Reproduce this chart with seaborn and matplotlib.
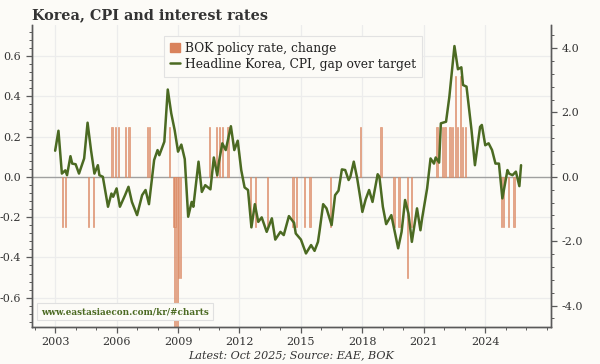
import matplotlib
matplotlib.use("Agg")
import matplotlib.pyplot as plt
from matplotlib.ticker import FormatStrFormatter, MultipleLocator, FixedLocator
from matplotlib.patches import Patch
from matplotlib.lines import Line2D
import seaborn as sns
import pandas as pd
import numpy as np

# ---------------- data ----------------
cpi_dates = ["2003-01", "2003-03", "2003-05", "2003-07", "2003-08", "2003-10", "2003-11",
             "2004-01", "2004-03", "2004-06", "2004-08", "2004-10", "2004-11", "2004-12",
             "2005-02", "2005-03", "2005-05", "2005-08", "2005-10", "2005-11",
             "2006-01", "2006-03", "2006-06", "2006-08", "2006-10",
             "2007-01", "2007-04", "2007-06", "2007-08", "2007-11",
             "2008-01", "2008-02", "2008-05", "2008-07", "2008-09", "2008-11",
             "2009-01", "2009-03", "2009-05", "2009-07", "2009-09", "2009-10",
             "2010-01", "2010-03", "2010-05", "2010-08", "2010-10", "2010-12",
             "2011-01", "2011-03", "2011-05", "2011-08", "2011-10", "2011-12",
             "2012-02", "2012-04", "2012-06", "2012-08", "2012-10", "2012-12",
             "2013-02", "2013-05", "2013-08", "2013-10",
             "2014-01", "2014-03", "2014-06", "2014-09", "2014-10",
             "2015-01", "2015-04", "2015-07", "2015-09", "2015-11", "2015-12",
             "2016-02", "2016-04", "2016-07", "2016-09", "2016-11",
             "2017-01", "2017-03", "2017-05", "2017-06", "2017-08", "2017-10", "2017-12",
             "2018-01", "2018-03", "2018-05", "2018-07", "2018-10", "2018-11",
             "2019-01", "2019-03", "2019-06", "2019-10", "2019-12",
             "2020-02", "2020-04", "2020-06", "2020-09", "2020-11", "2020-12",
             "2021-03", "2021-05", "2021-07", "2021-08", "2021-10", "2021-11",
             "2022-02", "2022-04", "2022-07", "2022-09", "2022-11", "2022-12",
             "2023-02", "2023-05", "2023-07", "2023-10", "2023-11",
             "2024-01", "2024-03", "2024-05", "2024-07", "2024-09", "2024-11",
             "2025-02", "2025-03", "2025-05", "2025-07", "2025-09", "2025-10"]
cpi_gap = [0.81, 1.43, 0.10, 0.20, 0.05, 0.64, 0.41,
           0.39, 0.10, 0.57, 1.68, 0.83, 0.47, 0.10,
           0.36, 0.05, 0.00, -0.93, -0.52, -0.62,
           -0.36, -0.93, -0.57, -0.31, -0.78,
           -1.19, -0.57, -0.41, -0.85, 0.52,
           0.83, 0.67, 1.09, 2.71, 1.97, 1.45,
           0.78, 1.00, 0.55, -1.24, -0.78, -0.93,
           0.47, -0.47, -0.26, -0.39, 0.60, 0.05,
           0.47, 1.04, 0.83, 1.57, 0.83, 1.12,
           0.21, -0.33, -0.41, -1.57, -0.85, -1.40,
           -1.26, -1.71, -1.29, -1.95,
           -1.71, -1.81, -1.22, -1.43, -1.76,
           -1.95, -2.38, -2.12, -2.30, -2.02, -1.66,
           -0.85, -0.98, -1.50, -0.57, -0.43,
           0.23, 0.21, -0.10, 0.00, 0.47, -0.05, -0.72,
           -1.09, -0.70, -0.41, -0.78, 0.08, 0.00,
           -0.93, -1.47, -1.19, -2.22, -1.71,
           -0.72, -1.14, -2.02, -0.98, -1.66, -1.29,
           -0.36, 0.57, 0.41, 0.60, 0.44, 1.66,
           1.71, 2.48, 4.06, 3.34, 3.40, 2.85,
           2.80, 1.45, 0.36, 1.55, 1.61,
           0.98, 1.04, 0.83, 0.41, 0.41, -0.67,
           0.21, 0.10, 0.05, 0.16, -0.29, 0.36]

bok_dates = ["2003-05-13", "2003-07-10", "2004-08-12", "2004-11-11",
             "2005-10-11", "2005-12-08", "2006-02-09", "2006-06-08", "2006-08-10",
             "2007-07-12", "2007-08-09", "2008-08-07",
             "2008-10-09", "2008-10-27", "2008-11-07", "2008-12-11", "2009-01-09", "2009-02-12",
             "2010-07-09", "2010-11-16", "2011-01-13", "2011-03-10", "2011-06-10",
             "2012-07-12", "2012-10-11", "2013-05-09", "2014-08-14", "2014-10-15",
             "2015-03-12", "2015-06-11", "2016-06-09",
             "2017-11-30", "2018-11-30",
             "2019-07-18", "2019-10-16", "2020-03-16", "2020-05-28",
             "2021-08-26", "2021-11-25", "2022-01-14", "2022-04-14", "2022-05-26",
             "2022-07-13", "2022-08-25", "2022-10-12", "2022-11-24", "2023-01-13",
             "2024-10-11", "2024-11-28", "2025-02-25", "2025-05-29"]
bok_change = [-0.25, -0.25, -0.25, -0.25,
              0.25, 0.25, 0.25, 0.25, 0.25,
              0.25, 0.25, 0.25,
              -0.25, -0.75, -0.25, -1.00, -0.50, -0.50,
              0.25, 0.25, 0.25, 0.25, 0.25,
              -0.25, -0.25, -0.25, -0.25, -0.25,
              -0.25, -0.25, -0.25,
              0.25, 0.25,
              -0.25, -0.25, -0.50, -0.25,
              0.25, 0.25, 0.25, 0.25, 0.25,
              0.50, 0.25, 0.50, 0.25, 0.25,
              -0.25, -0.25, -0.25, -0.25]

year_ticks = [2003, 2006, 2009, 2012, 2015, 2018, 2021, 2024]
left_ticks = [-0.6, -0.4, -0.2, 0.0, 0.2, 0.4, 0.6]
right_ticks = [-4.0, -2.0, 0.0, 2.0, 4.0]

title = "Korea, CPI and interest rates"
bar_label = "BOK policy rate, change"
line_label = "Headline Korea, CPI, gap over target"
footer = "Latest: Oct 2025; Source: EAE, BOK"
website = "www.eastasiaecon.com/kr/#charts"


def dec_year(s):
    d = pd.to_datetime(pd.Series(s))
    return (d.dt.year + (d.dt.dayofyear - 1) / 365.25).to_numpy()


cpi_df = pd.DataFrame({"t": dec_year(cpi_dates), "gap": cpi_gap})
bok_df = pd.DataFrame({"t": dec_year(bok_dates), "chg": bok_change})

# ---------------- style ----------------
BG = "#fcfbf7"
GREEN = "#4b6a22"
ORANGE = "#d9825b"
SPINE = "#5a5a5a"

sns.set_theme(style="white")
plt.rcParams["font.family"] = ["DejaVu Serif"]
plt.rcParams["axes.facecolor"] = BG
plt.rcParams["figure.facecolor"] = BG

fig = plt.figure(figsize=(6.0, 3.64), dpi=100)
ax = fig.add_axes([0.053, 0.102, 0.865, 0.829])
ax2 = ax.twinx()

# grid
for y in left_ticks:
    if y != 0:
        ax.axhline(y, color="#ececec", lw=0.9, zorder=0)
for x in year_ticks:
    ax.axvline(x, color="#ececec", lw=0.9, zorder=0)
ax.axhline(0, color="#a0a0a0", lw=1.0, zorder=1)

# bars
ax.bar(bok_df["t"], bok_df["chg"], width=0.06, color="#e3a283", alpha=0.95,
       edgecolor=ORANGE, linewidth=0.4, zorder=2)

# line
sns.lineplot(data=cpi_df, x="t", y="gap", ax=ax2, color=GREEN, lw=1.8, zorder=3)

ax.set_xlim(2001.86, 2027.2)
ax.set_ylim(-0.745, 0.754)
ax2.set_ylim(-4.66, 4.71)

ax.set_xlabel("")
ax.set_ylabel("")
ax2.set_xlabel("")
ax2.set_ylabel("")

ax.xaxis.set_major_locator(FixedLocator(year_ticks))
ax.xaxis.set_minor_locator(MultipleLocator(1))
ax.set_xticklabels([str(y) for y in year_ticks])
ax.yaxis.set_major_locator(FixedLocator(left_ticks))
ax.yaxis.set_minor_locator(MultipleLocator(0.04))
ax.yaxis.set_major_formatter(FormatStrFormatter("%.1f"))
ax2.yaxis.set_major_locator(FixedLocator(right_ticks))
ax2.yaxis.set_minor_locator(MultipleLocator(0.4))
ax2.yaxis.set_major_formatter(FormatStrFormatter("%.1f"))

for a in (ax, ax2):
    for s in ("left", "right", "bottom"):
        a.spines[s].set_color(SPINE)
        a.spines[s].set_linewidth(1.0)
    a.spines["top"].set_visible(False)
    a.tick_params(which="major", length=4, width=0.9, color=SPINE, labelsize=8,
                  labelcolor="#333333", direction="out")
    a.tick_params(which="minor", length=2, width=0.7, color=SPINE, direction="out")
ax.tick_params(axis="y", which="both", left=True, right=False)
ax.tick_params(axis="x", which="both", bottom=True, pad=3)
ax2.tick_params(axis="y", which="both", right=True, left=False)

# legend
handles = [Patch(facecolor=ORANGE, edgecolor=ORANGE, label=bar_label),
           Line2D([0], [0], color=GREEN, lw=1.8, label=line_label)]
leg = ax2.legend(handles=handles, loc="upper left", bbox_to_anchor=(0.243, 0.985),
                 frameon=True, fancybox=False, fontsize=8.8, handlelength=0.8,
                 handleheight=0.8, handletextpad=0.4, borderpad=0.5, labelspacing=0.25,
                 facecolor=BG, edgecolor="#e2e2e2", framealpha=1.0)
leg.get_frame().set_linewidth(0.8)
for t in leg.get_texts():
    t.set_color("#222222")

# website box
ax.text(0.018, 0.05, website, transform=ax.transAxes, fontsize=6.3, fontweight="bold",
        color=GREEN, ha="left", va="center", zorder=5,
        bbox=dict(boxstyle="square,pad=0.45", facecolor=BG, edgecolor="#e0e0e0", lw=0.8))

fig.text(0.053, 0.958, title, fontsize=10.4, fontweight="bold", color="#333333",
         ha="left", va="center")
fig.text(0.485, 0.025, footer, fontsize=8, style="italic", color="#333333",
         ha="center", va="center")

fig.savefig("out.png", dpi=100, facecolor=BG)
